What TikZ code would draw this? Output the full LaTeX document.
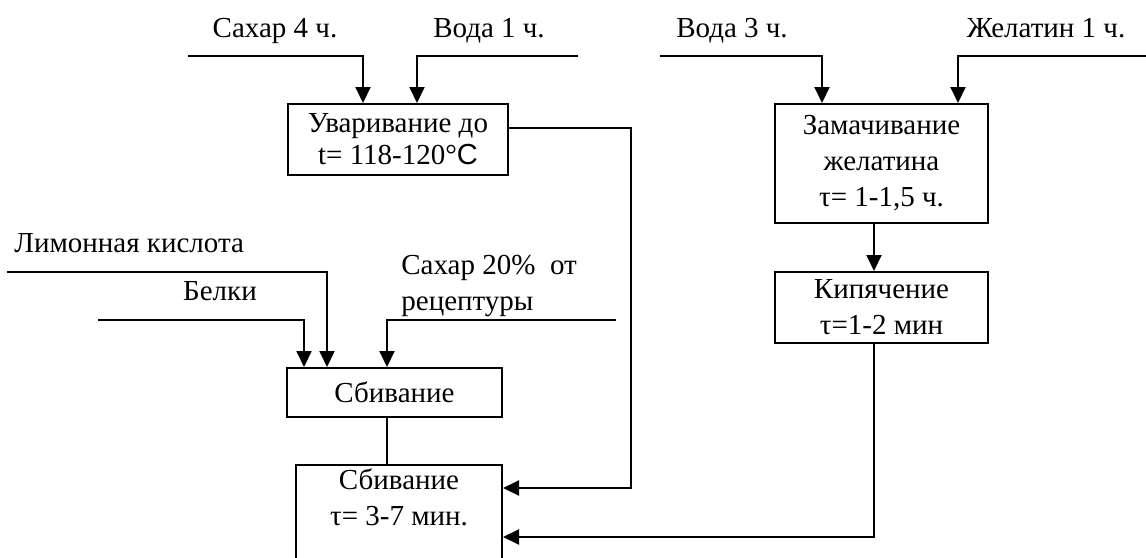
\documentclass[tikz,border=0pt]{standalone}
\usepackage{fontspec}
\setmainfont{Liberation Serif}
\newfontfamily\arialfont{Liberation Sans}
\usetikzlibrary{arrows.meta}
\begin{document}
\begin{tikzpicture}[x=0.5pt,y=-0.5pt,
  every node/.style={font=\fontsize{14.5}{18}\selectfont},
  stepbox/.style={draw,line width=1pt,inner sep=0pt,align=center},
  lbl/.style={inner sep=0pt,anchor=base},
  flow/.style={line width=1pt},
  arr/.style={flow,-{Triangle[length=8pt,width=7.5pt]}}]
\useasboundingbox (0,0) rectangle (1146,557);

% process boxes
\node[stepbox,minimum width=110pt,minimum height=35.5pt,
      font=\fontsize{14.5}{16}\selectfont] (uvar) at (398,139.5)
  {Уваривание до\\ t= 118-120°{\arialfont C}};
\node[stepbox,minimum width=106.5pt,minimum height=59.5pt] (zam) at (881.5,163.5)
  {Замачивание\\желатина\\τ= 1-1,5 ч.};
\node[stepbox,minimum width=106.5pt,minimum height=35.5pt] (kip) at (881.5,307.5)
  {Кипячение\\τ=1-2 мин};
\node[stepbox,minimum width=107.5pt,minimum height=24.5pt] (sb1) at (394.5,392.5)
  {Сбивание};
\node[stepbox,minimum width=103pt,minimum height=56pt] (sb2) at (399,521)
  {Сбивание\\τ= 3-7 мин.\\ \strut};

% input labels
\node[lbl] (tS4) at (275,37) {Сахар 4 ч.};
\node[lbl] (tV1) at (489,37) {Вода 1 ч.};
\node[lbl] (tV3) at (732,37) {Вода 3 ч.};
\node[lbl] (tG1) at (1046,37) {Желатин 1 ч.};
\node[lbl,anchor=base west] (tLim) at (14,252) {Лимонная кислота};
\node[lbl] (tBel) at (220,300) {Белки};
% base anchor of a two-line node sits on its last line
\node[lbl,anchor=base west,align=left] (tS20) at (401,310) {Сахар 20\%\ \ от\\рецептуры};

% free ends of the input lines
\coordinate (iS4) at (188,56);
\coordinate (iV1) at (578,56);
\coordinate (iV3) at (660,56);
\coordinate (iG1) at (1146,56);
\coordinate (iLim) at (7,272);
\coordinate (iBel) at (98,320);
\coordinate (iS20) at (616,320);

% inputs
\draw[arr] (iS4) -| (uvar.north -| 363,0);
\draw[arr] (iV1) -| (uvar.north -| 417,0);
\draw[arr] (iV3) -| (zam.north -| 822,0);
\draw[arr] (iG1) -| (zam.north -| 958,0);
\draw[arr] (iLim) -| (sb1.north -| 327,0);
\draw[arr] (iBel) -| (sb1.north -| 304,0);
\draw[arr] (iS20) -| (sb1.north -| 387,0);

% process flow
\draw[arr] (zam.south -| 874,0) -- (kip.north -| 874,0);
\draw[flow] (sb1.south -| 387,0) -- (sb2.north -| 387,0);
\draw[arr] (uvar.east |- 0,128) -| (631,488) -- (sb2.east |- 0,488);
\draw[arr] (kip.south -| 874,0) |- (sb2.east |- 0,537);
\end{tikzpicture}
\end{document}
